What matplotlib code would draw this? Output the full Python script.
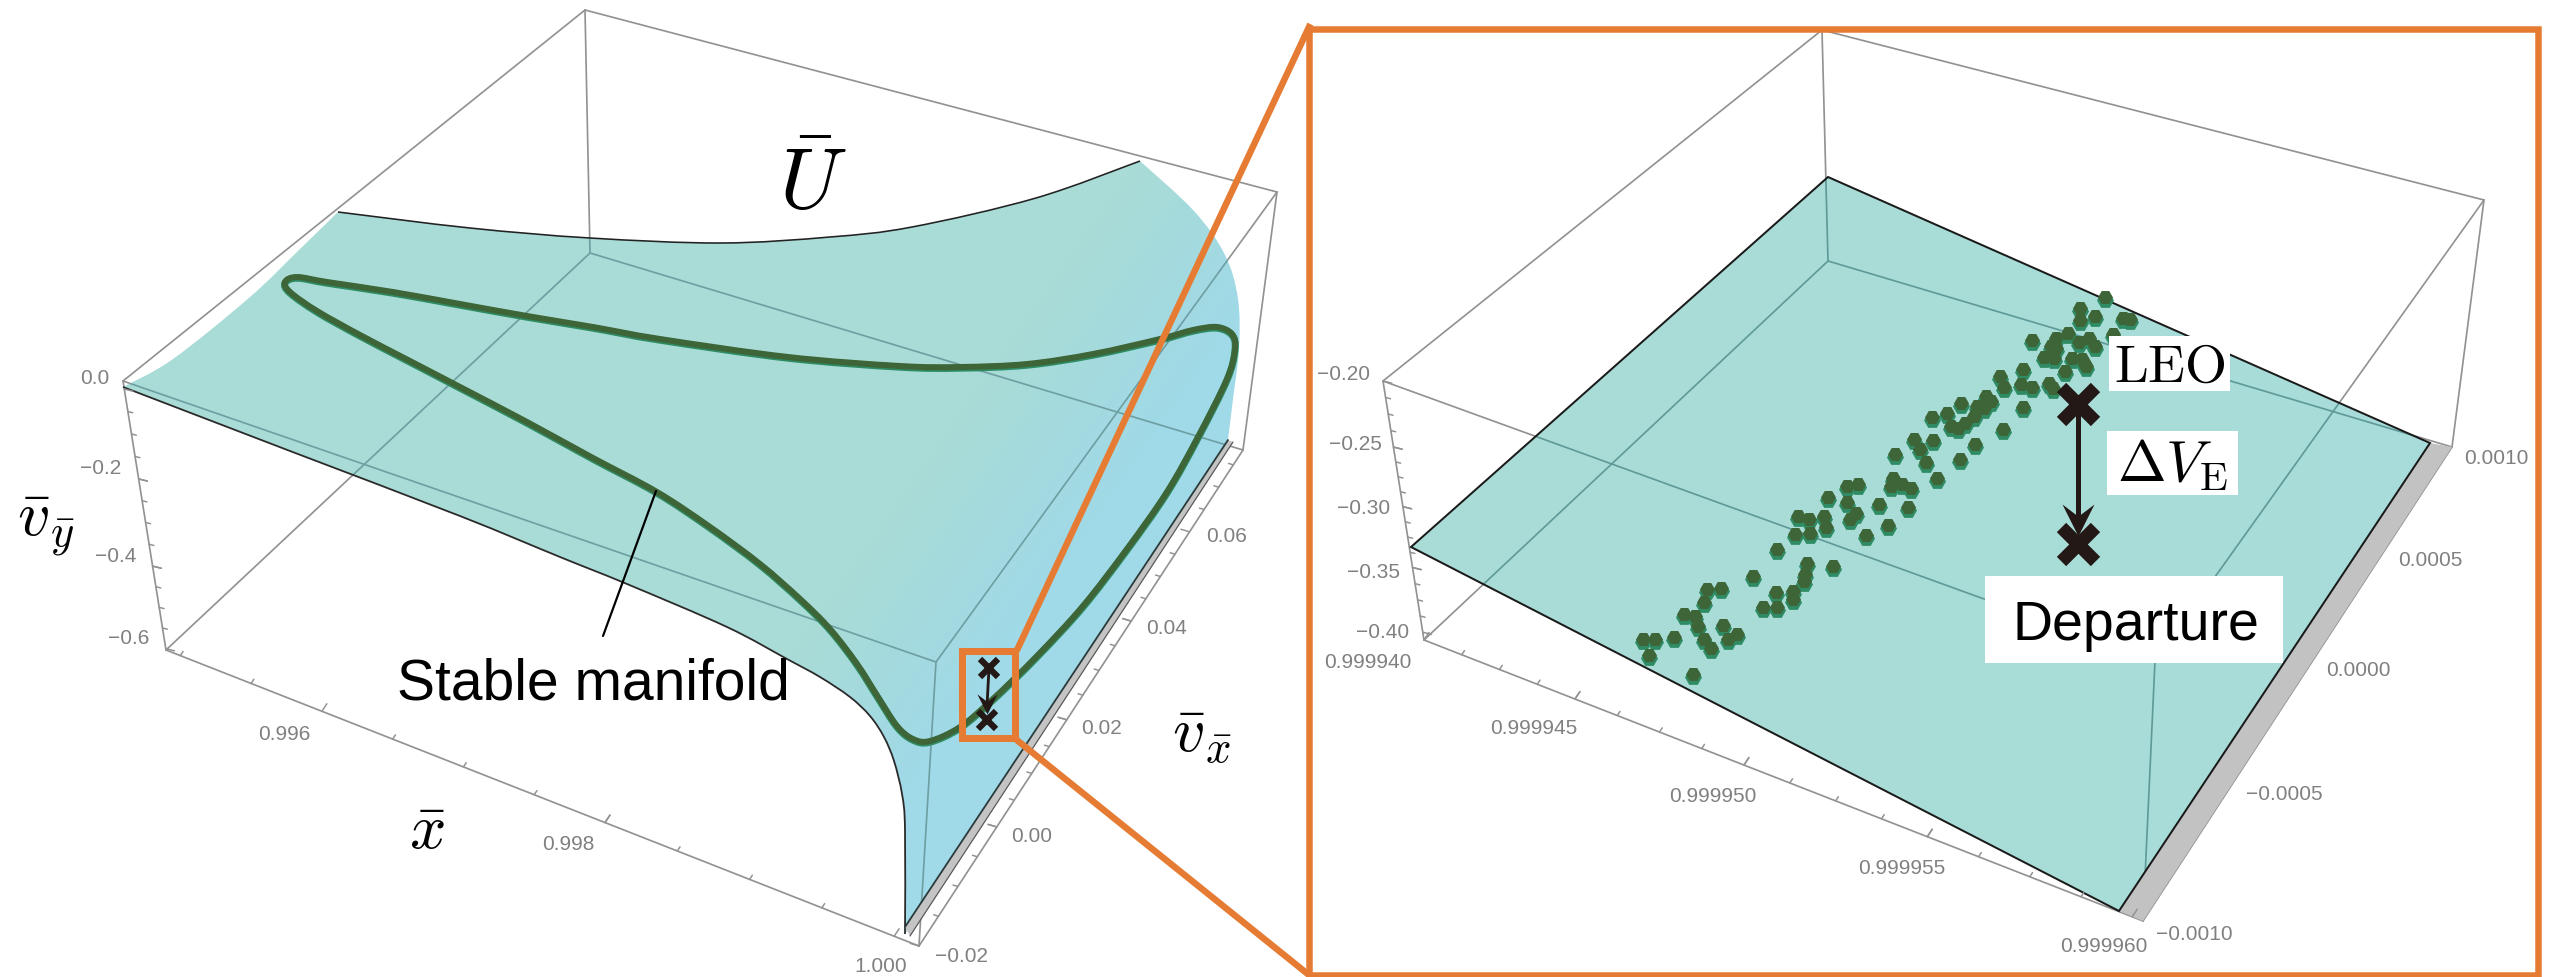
import numpy as np
import matplotlib
matplotlib.use("Agg")
import matplotlib.pyplot as plt
from matplotlib.path import Path
from matplotlib.patches import PathPatch, Polygon, Rectangle
from matplotlib.colors import LinearSegmentedColormap
from matplotlib.transforms import Affine2D

plt.rcParams['font.family'] = ['Liberation Sans', 'DejaVu Sans']
plt.rcParams['mathtext.fontset'] = 'cm'

W, H = 2559, 978
ORANGE = '#E67C33'
GRAY = '#929292'
TICKTXT = '#808080'
DARK = '#231815'

# ---------- left panel (picture pixels) ----------
L_A, L_B, L_C, L_D = (585, 11), (1277, 193), (123, 382), (936, 663)
L_E, L_F, L_G, L_H = (590, 254), (166, 651), (1243, 451), (919, 947)

L_surface_top = [(338, 213), (470, 229), (590, 239), (721, 244), (830, 238), (912, 228), (1036, 199), (1140, 162)]
L_surface_right = [(1194, 212), (1225, 256), (1238, 300), (1239, 350), (1233, 400), (1228, 441)]
L_surface_bottom = [(905, 935), (905, 830), (902, 795), (894, 762), (884, 738), (870, 717), (850, 698), (820, 678),
                    (787, 660), (727, 628), (627, 585), (560, 558), (460, 517), (290, 452), (123, 388)]
L_surface_left = [(173, 360), (250, 298), (300, 250)]

L_curve_x = [297, 327, 393, 460, 527, 593, 660, 788, 900, 960, 1027, 1093, 1160, 1193, 1217, 1232, 1235, 1227, 1198,
             1167, 1127, 1083, 1037, 993, 960, 930, 913, 897, 878, 857, 830, 800, 760, 710, 657, 593, 527, 460, 410,
             360, 317, 290, 285]
L_curve_y = [278, 283, 293, 305, 317, 328, 340, 358, 367, 368, 365, 355, 340, 331, 328, 335, 350, 380, 438,
             493, 550, 607, 657, 700, 728, 742, 740, 727, 698, 665, 630, 600, 565, 528, 493, 459, 423, 388, 362,
             336, 312, 293, 283]

L_x_vals = [0.996, 0.998, 1.000]
L_x_frac = [0.207, 0.583, 0.967]
L_y_vals = [0.0, -0.2, -0.4, -0.6]
L_y_frac = [0.03, 0.364, 0.688, 0.995]
L_v_vals = [-0.02, 0.00, 0.02, 0.04, 0.06]
L_v_frac = [0.0, 0.24, 0.456, 0.655, 0.835]

L_x_lab = [(284, 734), (568, 845), (881, 966)]
L_y_lab = [(95, 379), (101, 469), (116, 556), (129, 639)]
L_v_lab = [(961, 957), (1032, 837), (1102, 728), (1167, 628), (1227, 536)]

# ---------- right panel ----------
R_A, R_B, R_C, R_D = (1822, 31), (2484, 201), (1383, 382), (2155, 662)
R_E, R_F, R_G, R_H = (1828, 262), (1424, 641), (2452, 448), (2143, 922)

R_surface = [(1828, 178), (2430, 444), (2119, 912), (1411, 548)]
R_strip = [(2430, 444), (2452, 448), (2143, 922), (2119, 912)]

R_x_labels = ['0.999940', '0.999945', '0.999950', '0.999955', '0.999960']
R_y_labels = ['\u22120.20', '\u22120.25', '\u22120.30', '\u22120.35', '\u22120.40']
R_v_labels = ['\u22120.0010', '\u22120.0005', '0.0000', '0.0005', '0.0010']
R_x_frac = [0.0, 0.21, 0.445, 0.70, 0.985]
R_y_frac = [0.0, 0.255, 0.485, 0.72, 0.97]
R_v_frac = [0.02, 0.26, 0.48, 0.69, 0.89]
R_x_lab = [(1368, 663), (1534, 728), (1713, 797), (1902, 869), (2104, 947)]
R_y_lab = [(1343, 374), (1355, 444), (1364, 508), (1374, 572), (1383, 632)]
R_v_lab = [(2194, 934), (2284, 794), (2358, 671), (2430, 560), (2496, 459)]

blob_cx = [1438, 1368, 1410, 1368, 1490, 1510, 1462, 1230, 1335, 1300, 1285, 1365, 1395, 1410, 1300, 1265, 1295,
           1345, 1375, 1385, 1325, 1140, 1205, 1150, 1200, 1230, 1280, 1290, 1205, 1148, 1100, 1115, 1075, 1095,
           1030, 990, 945, 1065, 1040, 1000, 1020, 1068, 1025, 895, 950, 912, 840, 930, 960, 835, 860, 885, 830,
           878, 705, 735, 650, 705, 795, 730, 712, 820, 757, 565, 595, 637, 645, 555, 598, 505, 590, 665, 585,
           580, 435, 550, 550, 503, 345, 305, 295, 240, 270, 280, 350, 465, 505, 390, 365, 295, 315, 210, 122,
           158, 140, 265]
blob_cy = [88, 120, 145, 158, 152, 153, 198, 218, 195, 210, 235, 222, 210, 235, 240, 268, 270,
           272, 275, 295, 310, 325, 305, 358, 350, 358, 345, 360, 418, 485, 385, 400, 415, 420,
           405, 435, 447, 445, 465, 475, 480, 530, 575, 515, 518, 545, 560, 582, 630, 630, 650, 660, 655,
           718, 655, 650, 687, 702, 708, 735, 755, 772, 802, 745, 755, 745, 778, 800, 795, 845, 885, 895, 920,
           940, 925, 970, 995, 972, 960, 965, 1002, 1040, 1045, 1075, 1072, 1018, 1018, 1100, 1115, 1115, 1140,
           1108, 1115, 1115, 1162, 1220]
blob_x = [1600 + v / 2.85 for v in blob_cx]
blob_y = [270 + v / 3 for v in blob_cy]

marks_right = [(2078, 405), (2078, 545)]
tip_right = (2078, 537)
marks_left = [(989, 669), (987, 721)]
tip_left = (987, 715)

fig = plt.figure(figsize=(W / 100, H / 100), dpi=100)
ax = fig.add_axes([0, 0, 1, 1])
ax.set_xlim(0, W)
ax.set_ylim(H, 0)
ax.axis('off')


def lw(px):
    return px * 0.72


def smooth_path(pts, closed=False):
    p = np.asarray(pts, float)
    n = len(p)
    verts = [p[0]]
    codes = [Path.MOVETO]
    last = n if closed else n - 1
    for i in range(last):
        if closed:
            p0, p1, p2, p3 = p[(i - 1) % n], p[i], p[(i + 1) % n], p[(i + 2) % n]
        else:
            p0, p1, p2, p3 = p[max(i - 1, 0)], p[i], p[i + 1], p[min(i + 2, n - 1)]
        verts += [p1 + (p2 - p0) / 6, p2 - (p3 - p1) / 6, p2]
        codes += [Path.CURVE4] * 3
    return Path(verts, codes)


def seg(P, Q, **kw):
    return ax.plot([P[0], Q[0]], [P[1], Q[1]], solid_capstyle='round', **kw)[0]


def edge_ticks(P, Q, major, direction, nsub, lmaj=9, lmin=5, z=2):
    P, Q = np.array(P, float), np.array(Q, float)
    d = np.array(direction, float)
    d = d / np.hypot(*d)
    for i in range(len(major) - 1):
        fr = np.linspace(major[i], major[i + 1], nsub + 1)
        for j, f in enumerate(fr):
            a = P + (Q - P) * f
            ln = lmaj if j == 0 or j == nsub else lmin
            seg(a, a + d * ln, color=GRAY, lw=lw(1.5), zorder=z)
    step = (major[-1] - major[-2]) / nsub
    f = major[-1] + step
    while f < 1.0:
        a = P + (Q - P) * f
        seg(a, a + d * lmin, color=GRAY, lw=lw(1.5), zorder=z)
        f += step
    step = (major[1] - major[0]) / nsub
    f = major[0] - step
    while f > 0:
        a = P + (Q - P) * f
        seg(a, a + d * lmin, color=GRAY, lw=lw(1.5), zorder=z)
        f -= step


def labels(pos, txt, size=15):
    for (x, y), s in zip(pos, txt):
        ax.text(x, y, s, color=TICKTXT, fontsize=size, ha='center', va='center', zorder=3)


def gradient(path, img, c_stops, extent, zorder=1):
    cmap = LinearSegmentedColormap.from_list('g', c_stops)
    im = ax.imshow(img, cmap=cmap, vmin=0, vmax=1, extent=extent, aspect='auto', zorder=zorder,
                   interpolation='bilinear')
    patch = PathPatch(path, transform=ax.transData, fc='none', ec='none')
    ax.add_patch(patch)
    im.set_clip_path(patch)
    return patch


def box_lines(corners, edges, inner_patch, inner_color):
    for a, b in edges:
        seg(corners[a], corners[b], color=GRAY, lw=lw(1.7), zorder=0.5)
        l = seg(corners[a], corners[b], color=inner_color, lw=lw(1.7), zorder=1.5)
        l.set_clip_path(inner_patch)


edges = ['AB', 'AC', 'CD', 'BD', 'AE', 'EF', 'EG', 'CF', 'BG', 'DH', 'FH', 'GH']

# --- left surface
outline = smooth_path(L_surface_top)
right = smooth_path([L_surface_top[-1]] + L_surface_right)
bot = smooth_path(L_surface_bottom)
left = smooth_path([L_surface_bottom[-1]] + L_surface_left + [L_surface_top[0]])
V = outline.vertices.tolist() + right.vertices[1:].tolist() + [bot.vertices[0].tolist()] + bot.vertices[1:].tolist() + left.vertices[1:].tolist()
C = outline.codes.tolist() + right.codes[1:].tolist() + [Path.LINETO] + bot.codes[1:].tolist() + left.codes[1:].tolist()
L_path = Path(V, C)
gx, gy = np.meshgrid(np.linspace(0, 1300, 400), np.linspace(0, 978, 300))
L_img = np.clip((gx + 0.7 * gy - 1250) / 210, 0, 1)
L_patch = gradient(L_path, L_img, ['#A9DCD6', '#A0D9E7'], (0, 1300, 978, 0))
ax.add_patch(PathPatch(outline, fc='none', ec='#222222', lw=lw(1.6), zorder=1.6))
ax.add_patch(PathPatch(bot, fc='none', ec='#2a2a2a', lw=lw(1.8), zorder=1.6))
L_corners = dict(A=L_A, B=L_B, C=L_C, D=L_D, E=L_E, F=L_F, G=L_G, H=L_H)
box_lines(L_corners, edges, L_patch, '#6E9FA2')
L_strip = [(905, 928), (910, 937), (1233, 443), (1228, 441)]
ax.add_patch(Polygon(L_strip, closed=True, fc='#C4C4C4', ec='none', zorder=1.7))
seg(L_strip[0], L_strip[3], color='#2a3a3a', lw=lw(1.8), zorder=1.8)
seg(L_strip[1], L_strip[2], color='#555555', lw=lw(1.2), zorder=1.8)

edge_ticks(L_F, L_H, L_x_frac, (0.55, -0.83), 4)
edge_ticks(L_C, L_F, L_y_frac, (1, 0.25), 4)
edge_ticks(L_H, L_G, L_v_frac, (-1, -0.3), 4)
labels(L_x_lab, [f'{v:.3f}' for v in L_x_vals])
labels(L_y_lab, [f'{v:.1f}'.replace('-', '\u2212') for v in L_y_vals])
labels(L_v_lab, [f'{v:.2f}'.replace('-', '\u2212') for v in L_v_vals])

# stable manifold
curve = smooth_path(list(zip(L_curve_x, L_curve_y)), closed=True)
ax.add_patch(PathPatch(curve.transformed(Affine2D().translate(0, 1.2)), fc='none', ec='#2E8B63', lw=lw(7), zorder=2.2))
ax.add_patch(PathPatch(curve, fc='none', ec='#3E6537', lw=lw(6), zorder=2.3))
seg((656, 492), (603, 637), color='black', lw=lw(2.2), zorder=2.4)
ax.text(593, 685, 'Stable manifold', fontsize=41, ha='center', va='center', color='black', zorder=3)
ax.text(813, 187, r'$\bar{U}$', fontsize=62, ha='center', va='center', color='black', zorder=3)
ax.text(46, 527, r'$\bar{v}_{\bar{y}}$', fontsize=46, ha='center', va='center', color='black', zorder=3)
ax.text(1202, 736, r'$\bar{v}_{\bar{x}}$', fontsize=46, ha='center', va='center', color='black', zorder=3)
ax.text(427, 832, r'$\bar{x}$', fontsize=46, ha='center', va='center', color='black', zorder=3)

# --- right surface
R_path = Path(R_surface + [R_surface[0]], closed=True)
R_patch = gradient(R_path, np.linspace(0, 1, 256)[None, :], ['#A9DCD6', '#A9DCD6', '#A8DCDB'], (1411, 2430, 978, 0))
R_corners = dict(A=R_A, B=R_B, C=R_C, D=R_D, E=R_E, F=R_F, G=R_G, H=R_H)
box_lines(R_corners, edges, R_patch, '#5F9A98')
edge_ticks(R_F, R_H, R_x_frac, (0.55, -0.83), 4)
edge_ticks(R_C, R_F, R_y_frac, (1, 0.25), 4)
edge_ticks(R_H, R_G, R_v_frac, (-1, -0.3), 4, z=0.6)
ax.add_patch(Polygon(R_strip, closed=True, fc='#C2C2C2', ec='none', zorder=1.7))
ax.add_patch(Polygon(R_surface, closed=True, fc='none', ec='#1a1a1a', lw=lw(2), zorder=1.8))
labels(R_x_lab, R_x_labels)
labels(R_y_lab, R_y_labels)
labels(R_v_lab, R_v_labels)

ax.scatter(blob_x, np.array(blob_y) + 1.5, s=lw(17) ** 2, marker='H', c='#2E8B63', linewidths=0, zorder=2.2)
ax.scatter(blob_x, np.array(blob_y) - 1.5, s=lw(15) ** 2, marker='H', c='#3E6537', linewidths=0, zorder=2.3)

# departure / LEO
stealth = Path([(0, 0), (-0.5, 1), (0, 0.62), (0.5, 1), (0, 0)], closed=True)


def vec_arrow(marks, tip, lwpx, ms, xsize, xw):
    ax.plot([marks[0][0], tip[0]], [marks[0][1], tip[1] - 8], color=DARK, lw=lw(lwpx), zorder=4)
    ax.plot([tip[0]], [tip[1]], marker=stealth, ms=ms, color=DARK, mew=0, zorder=4)
    for M in marks:
        ax.plot([M[0]], [M[1]], marker='x', ms=xsize, mew=xw, color=DARK, zorder=4.1)


vec_arrow(marks_right, tip_right, 5, 46, 25, 9.5)
vec_arrow(marks_left, tip_left, 2.8, 29, 13, 4.5)

for (x0, y0, x1, y1) in [(2109, 337, 2230, 392), (2107, 432, 2238, 496), (1985, 577, 2283, 664)]:
    ax.add_patch(Rectangle((x0, y0), x1 - x0, y1 - y0, fc='white', ec='none', zorder=3.5))
ax.text(2170, 368, r'$\mathrm{LEO}$', fontsize=39, ha='center', va='center', zorder=3.6)
ax.text(2173, 465, r'$\mathit{\Delta}V_{\mathrm{E}}$', fontsize=42, ha='center', va='center', zorder=3.6)
ax.text(2136, 626, 'Departure', fontsize=40, ha='center', va='center', zorder=3.6)

# orange frames
ax.plot([1018, 1309], [649, 28], color=ORANGE, lw=lw(6.5), zorder=5)
ax.plot([1018, 1309], [742, 976], color=ORANGE, lw=lw(6.5), zorder=5)
ax.add_patch(Rectangle((962, 652), 53, 87, fc='none', ec=ORANGE, lw=lw(7), zorder=5))
ax.add_patch(Rectangle((1309, 30), 1229, 946, fc='none', ec=ORANGE, lw=lw(6.5), zorder=5, clip_on=False))

fig.savefig('out.png', dpi=100, facecolor='white')
